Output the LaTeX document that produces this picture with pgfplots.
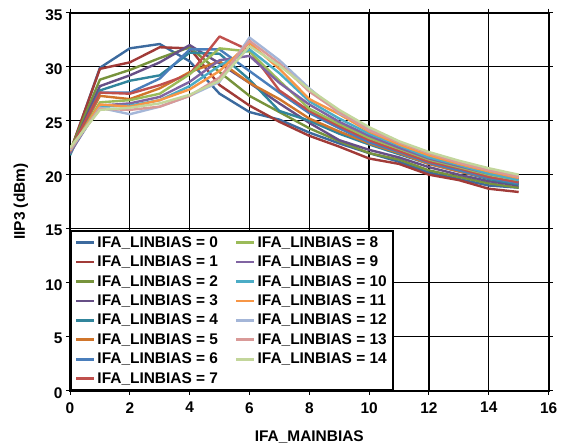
\documentclass[border=0pt]{standalone}
\usepackage{pgfplots}
\pgfplotsset{compat=1.18}
\usepackage{fontspec}
\setmainfont{Liberation Sans}
\definecolor{c0}{HTML}{3C6A9E}
\definecolor{c1}{HTML}{A13B38}
\definecolor{c2}{HTML}{77933C}
\definecolor{c3}{HTML}{664F86}
\definecolor{c4}{HTML}{31859C}
\definecolor{c5}{HTML}{D0752B}
\definecolor{c6}{HTML}{4A7EBB}
\definecolor{c7}{HTML}{C0504D}
\definecolor{c8}{HTML}{9BBB59}
\definecolor{c9}{HTML}{8064A2}
\definecolor{c10}{HTML}{4BACC6}
\definecolor{c11}{HTML}{F79646}
\definecolor{c12}{HTML}{A4B6D8}
\definecolor{c13}{HTML}{D99A98}
\definecolor{c14}{HTML}{C3D69B}
\newcommand{\lbl}{\bfseries\fontsize{15.5}{17}\selectfont}
\begin{document}
\begin{tikzpicture}
\begin{axis}[
 scale only axis, width=478.6bp, height=378bp,
 xmin=0, xmax=16, ymin=0, ymax=35,
 xtick={0,2,...,16}, ytick={0,5,...,35},
 grid=major, major grid style={black, line width=1.3bp},
 axis line style={black, line width=2bp},
 tick align=outside, major tick length=4bp, tick style={black, line width=1bp},
 /pgf/number format/assume math mode=true,
 ticklabel style={font=\lbl},
 xticklabel style={yshift=-4bp},
 yticklabel style={yshift=-2bp},
 xlabel={IFA\_MAINBIAS}, ylabel={IIP3 (dBm)},
 label style={font=\lbl},
 xlabel style={at={(axis description cs:0.5,0)}, anchor=center, yshift=-46bp},
 ylabel style={at={(axis description cs:0,0.5)}, anchor=center, yshift=49bp},
 legend style={at={(0,0)}, anchor=south west, draw=black, line width=1.8bp, fill=white, font=\lbl, inner xsep=4bp, inner ysep=3bp, row sep=3.2bp,
   /tikz/every even column/.append style={column sep=15bp}},
 legend columns=8, transpose legend,
 legend cell align=left,
 legend image code/.code={\draw[#1, line width=2.6bp] (0bp,0bp) -- (18bp,0bp);},
 every axis plot/.append style={line width=2.4bp, mark=none, line join=round},
]
\addplot[c0] coordinates {(0,22.0)(1,29.9)(2,31.7)(3,32.1)(4,30.5)(5,27.5)(6,25.8)(7,25.1)(8,23.9)(9,22.9)(10,22.0)(11,21.2)(12,20.2)(13,19.6)(14,19.0)(15,18.8)};
\addlegendentry{IFA\_LINBIAS = 0}
\addplot[c1] coordinates {(0,22.1)(1,29.8)(2,30.4)(3,31.8)(4,31.7)(5,28.3)(6,26.4)(7,24.9)(8,23.6)(9,22.6)(10,21.5)(11,21.0)(12,20.0)(13,19.5)(14,18.7)(15,18.4)};
\addlegendentry{IFA\_LINBIAS = 1}
\addplot[c2] coordinates {(0,22.2)(1,28.8)(2,29.7)(3,30.8)(4,31.8)(5,29.5)(6,27.3)(7,25.8)(8,24.3)(9,23.1)(10,22.0)(11,21.4)(12,20.4)(13,19.8)(14,19.2)(15,18.8)};
\addlegendentry{IFA\_LINBIAS = 2}
\addplot[c3] coordinates {(0,22.0)(1,28.2)(2,29.2)(3,30.4)(4,32.0)(5,30.3)(6,28.5)(7,26.6)(8,24.8)(9,23.2)(10,22.3)(11,21.6)(12,20.7)(13,20.0)(14,19.4)(15,19.0)};
\addlegendentry{IFA\_LINBIAS = 3}
\addplot[c4] coordinates {(0,21.8)(1,27.8)(2,28.7)(3,29.2)(4,31.3)(5,31.2)(6,28.8)(7,25.9)(8,25.0)(9,23.8)(10,22.8)(11,21.9)(12,21.0)(13,20.3)(14,19.6)(15,19.1)};
\addlegendentry{IFA\_LINBIAS = 4}
\addplot[c5] coordinates {(0,22.0)(1,27.3)(2,27.0)(3,28.0)(4,29.5)(5,30.5)(6,28.5)(7,27.0)(8,25.2)(9,24.0)(10,22.9)(11,22.0)(12,21.0)(13,20.3)(14,19.7)(15,19.3)};
\addlegendentry{IFA\_LINBIAS = 5}
\addplot[c6] coordinates {(0,22.1)(1,27.6)(2,27.6)(3,28.9)(4,31.6)(5,31.6)(6,29.6)(7,27.6)(8,25.7)(9,24.3)(10,23.0)(11,22.1)(12,21.1)(13,20.4)(14,19.7)(15,19.2)};
\addlegendentry{IFA\_LINBIAS = 6}
\addplot[c7] coordinates {(0,22.2)(1,27.6)(2,27.5)(3,28.3)(4,29.3)(5,32.8)(6,31.5)(7,27.8)(8,25.9)(9,24.5)(10,23.2)(11,22.2)(12,21.2)(13,20.6)(14,19.8)(15,19.3)};
\addlegendentry{IFA\_LINBIAS = 7}
\addplot[c8] coordinates {(0,22.1)(1,26.7)(2,26.9)(3,27.5)(4,29.3)(5,31.7)(6,31.4)(7,28.7)(8,26.1)(9,24.7)(10,23.4)(11,22.4)(12,21.4)(13,20.7)(14,20.0)(15,19.5)};
\addlegendentry{IFA\_LINBIAS = 8}
\addplot[c9] coordinates {(0,22.0)(1,26.4)(2,26.6)(3,27.2)(4,28.6)(5,30.6)(6,31.0)(7,28.5)(8,26.5)(9,24.9)(10,23.6)(11,22.5)(12,21.5)(13,20.8)(14,20.1)(15,19.6)};
\addlegendentry{IFA\_LINBIAS = 9}
\addplot[c10] coordinates {(0,22.2)(1,26.3)(2,26.4)(3,26.9)(4,28.2)(5,30.1)(6,31.6)(7,29.4)(8,26.8)(9,25.2)(10,23.8)(11,22.7)(12,21.6)(13,20.9)(14,20.1)(15,19.5)};
\addlegendentry{IFA\_LINBIAS = 10}
\addplot[c11] coordinates {(0,22.2)(1,26.5)(2,26.3)(3,26.9)(4,27.9)(5,29.6)(6,32.2)(7,29.8)(8,27.0)(9,25.6)(10,24.0)(11,22.8)(12,21.8)(13,21.0)(14,20.3)(15,19.7)};
\addlegendentry{IFA\_LINBIAS = 11}
\addplot[c12] coordinates {(0,22.3)(1,26.2)(2,25.6)(3,26.3)(4,27.3)(5,28.6)(6,32.7)(7,30.6)(8,28.0)(9,25.7)(10,24.3)(11,23.0)(12,22.0)(13,21.2)(14,20.5)(15,19.9)};
\addlegendentry{IFA\_LINBIAS = 12}
\addplot[c13] coordinates {(0,22.4)(1,26.1)(2,26.0)(3,26.3)(4,27.3)(5,29.0)(6,32.4)(7,30.3)(8,27.7)(9,25.8)(10,24.1)(11,23.0)(12,22.0)(13,21.1)(14,20.4)(15,19.8)};
\addlegendentry{IFA\_LINBIAS = 13}
\addplot[c14] coordinates {(0,22.5)(1,26.0)(2,26.2)(3,26.6)(4,27.4)(5,28.7)(6,31.9)(7,30.1)(8,27.9)(9,26.0)(10,24.4)(11,23.1)(12,22.1)(13,21.3)(14,20.6)(15,20.0)};
\addlegendentry{IFA\_LINBIAS = 14}
\end{axis}
\pgfresetboundingbox
\useasboundingbox ([xshift=-70bp,yshift=-55.3bp]current axis.south west) rectangle ([xshift=17.4bp,yshift=12.7bp]current axis.north east);
\end{tikzpicture}
\end{document}
